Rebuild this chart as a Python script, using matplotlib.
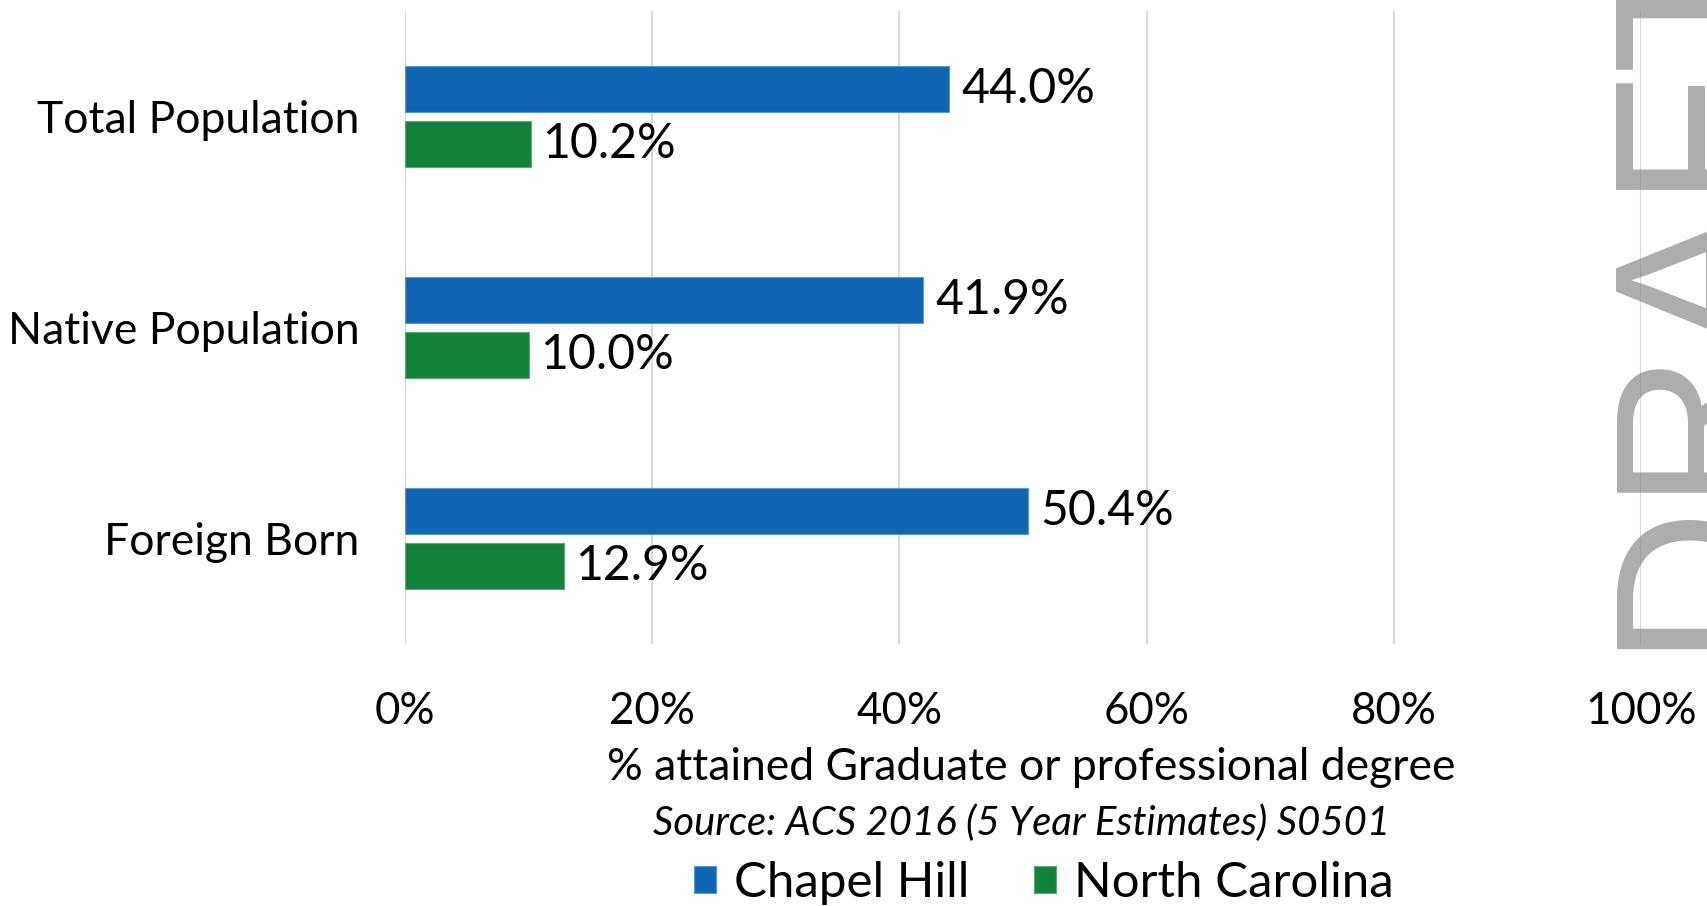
import matplotlib
matplotlib.use("Agg")
import matplotlib.pyplot as plt
from matplotlib.font_manager import FontProperties
from matplotlib.textpath import TextPath
from matplotlib.patches import Patch
import numpy as np

# ---------------- data ----------------
categories = ["Total Population", "Native Population", "Foreign Born"]
chapel_hill = [44.0, 41.9, 50.4]
north_carolina = [10.2, 10.0, 12.9]
series_names = ["Chapel Hill", "North Carolina"]
x_ticks = [0, 20, 40, 60, 80, 100]
x_tick_labels = ["0%", "20%", "40%", "60%", "80%", "100%"]
x_label = "% attained Graduate or professional degree"
source_text = "Source: ACS 2016 (5 Year Estimates) S0501"
watermark = "DRAFT"

# ---------------- style ----------------
W, H, DPI = 1707, 906, 100
FONT = "Lato"
BLUE, BLUE_EDGE = "#1166B3", "#5b97d3"
GREEN, GREEN_EDGE = "#12823B", "#5aa872"
GRID = "#d9d9d9"


def fit(text, target_px, family=FONT, style="normal"):
    fp = FontProperties(family=family, style=style)
    w = TextPath((0, 0), text, size=100, prop=fp).get_extents().width
    return 100 * target_px * 72 / DPI / w


tick_fs = fit("100%", 106)
cat_fs = fit("Total Population", 319)
val_fs = fit("44.0%", 131)
xlab_fs = fit(x_label, 844)
src_fs = fit(source_text, 732, style="italic")
leg_fs = fit("North Carolina", 312)

plt.rcParams["font.family"] = [FONT, "DejaVu Sans"]

fig = plt.figure(figsize=(W / DPI, H / DPI), dpi=DPI)
fig.patch.set_facecolor("white")

ax_left, ax_right, ax_top, ax_bottom = 405, 1641, 11, 644
ax = fig.add_axes([ax_left / W, 1 - ax_bottom / H,
                   (ax_right - ax_left) / W, (ax_bottom - ax_top) / H])

y = np.arange(len(categories))
bh = 0.218
off = 0.131
ax.barh(y - off, chapel_hill, height=bh, color=BLUE, edgecolor=BLUE_EDGE,
        linewidth=0.8, zorder=3)
ax.barh(y + off, north_carolina, height=bh, color=GREEN, edgecolor=GREEN_EDGE,
        linewidth=0.8, zorder=3)

for yi, v in zip(y - off, chapel_hill):
    ax.annotate(f"{v:.1f}%", xy=(v, yi), xytext=(9, 0), textcoords="offset points",
                va="center", ha="left", fontsize=val_fs, color="black", zorder=4)
for yi, v in zip(y + off, north_carolina):
    ax.annotate(f"{v:.1f}%", xy=(v, yi), xytext=(8, 0), textcoords="offset points",
                va="center", ha="left", fontsize=val_fs, color="black", zorder=4)

ax.set_xlim(0, 100)
ax.set_ylim(len(categories) - 0.5, -0.5)
ax.set_xticks(x_ticks)
ax.set_xticklabels(x_tick_labels, fontsize=tick_fs)
ax.set_yticks(y)
ax.set_yticklabels(categories, fontsize=cat_fs)
ax.tick_params(axis="x", length=0, pad=34)
ax.tick_params(axis="y", length=0, pad=33)
ax.xaxis.grid(True, color=GRID, linewidth=1.5)
ax.set_axisbelow(True)
for s in ax.spines.values():
    s.set_visible(False)

fig.text(1031 / W, 1 - 768 / H, x_label, ha="center", va="center",
         fontsize=xlab_fs, color="black")
fig.text(1022 / W, 1 - 823 / H, source_text, ha="center", va="center",
         fontsize=src_fs, style="italic", color="black")

leg_px = leg_fs * DPI / 72
handles = [Patch(facecolor=BLUE, edgecolor=BLUE_EDGE, linewidth=0.8),
           Patch(facecolor=GREEN, edgecolor=GREEN_EDGE, linewidth=0.8)]
fig.legend(handles, series_names, loc="center", bbox_to_anchor=(1044 / W, 1 - 883 / H),
           ncol=2, frameon=False, fontsize=leg_fs, borderpad=0,
           handlelength=22 / leg_px, handleheight=22 / leg_px,
           handletextpad=18 / leg_px, columnspacing=65 / leg_px)

fig.text(1749 / W, 1 - 649 / H, watermark, rotation=90, rotation_mode="anchor",
         ha="left", va="baseline", fontsize=157, family="Liberation Sans",
         color="gray", alpha=0.65, zorder=10)

fig.savefig("out.png", dpi=DPI, facecolor="white")
